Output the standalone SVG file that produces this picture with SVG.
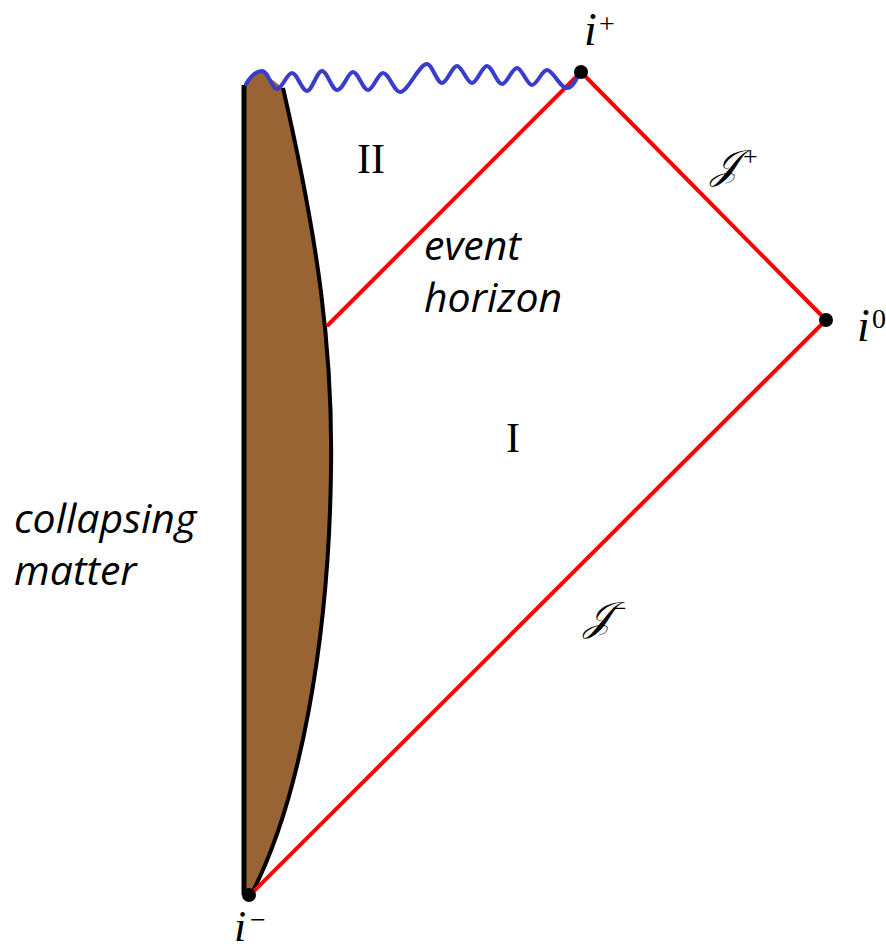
<svg xmlns="http://www.w3.org/2000/svg" width="886" height="952" viewBox="0 0 886 952">
<style>
.red{stroke:#ff0000;stroke-width:4;fill:none;stroke-linecap:round}
.dot{fill:#000}
.math{font-family:"Liberation Serif","DejaVu Serif",serif;font-style:italic;fill:#000}
.sup{font-family:"Liberation Serif","DejaVu Serif",serif;fill:#000}
.roman{font-family:"Liberation Serif",serif;fill:#000;font-size:42px}
.lbl{font-family:"Open Sans","Liberation Sans",sans-serif;font-style:italic;fill:#000;font-size:41px}
</style>
<rect width="886" height="952" fill="#fff"/>
<g id="matter">
<path d="M244,86 C250,72 262,68 270,78 L283,88 C318,240 333,350 331,470 C329,640 300,800 252,893 L244,893 Z" fill="#986433"/>
<path d="M283,88 C318,240 333,350 331,470 C329,640 300,800 252,893" fill="none" stroke="#000" stroke-width="4"/>
<line x1="244" y1="85" x2="244" y2="895" stroke="#000" stroke-width="5"/>
</g>
<g id="connectors">
<line class="red" x1="250" y1="895" x2="826" y2="320"/>
<line class="red" x1="826" y1="320" x2="581" y2="72"/>
<line class="red" x1="581" y1="72" x2="328" y2="325"/>
<path id="singularity" fill="none" stroke="#3a3ccc" stroke-width="4" stroke-linecap="round" d="M246,84 C252,74 257,71 262,71 C268,71 272,89 277,89 C282,89 287,73 292,73 C297,73 302,91 307,91 C312,91 317,71 322,71 C327,71 332,90 337,90 C343,90 348,72 353,72 C358,72 363,90 368,90 C373,90 378,73 383,73 C389,73 394,92 400,92 C408,92 419,64 427,64 C432,64 437,83 442,83 C447,83 452,66 457,66 C462,66 467,83 472,83 C477,83 482,66 487,66 C492,66 497,84 502,84 C507,84 512,68 517,68 C522,68 527,85 532,85 C537,85 542,70 547,70 C553,70 560,88 567,88 C572,88 576,80 579,74"/>
</g>
<g id="i-plus"><circle class="dot" cx="581" cy="72" r="7"/><text class="math" x="584" y="45" font-size="46">i</text><text class="sup" x="599" y="33" font-size="28">+</text></g>
<g id="i-zero"><circle class="dot" cx="826" cy="320" r="7"/><text class="math" x="857" y="341" font-size="46">i</text><text class="sup" x="872" y="328" font-size="28">0</text></g>
<g id="i-minus"><circle class="dot" cx="249" cy="895" r="7"/><text class="math" x="234" y="941" font-size="44">i</text><text class="sup" x="250" y="929" font-size="28">−</text></g>
<g id="scri-plus"><text class="math" x="711" y="178" font-size="40">𝒥</text><text class="sup" x="743" y="165" font-size="26">+</text></g>
<g id="scri-minus"><text class="math" x="584" y="630" font-size="40">𝒥</text><text class="sup" x="612" y="617" font-size="26">−</text></g>
<g id="region-II"><text class="roman" x="357" y="173">II</text></g>
<g id="region-I"><text class="roman" x="506" y="452">I</text></g>
<g id="event-horizon-label"><text class="lbl" x="424" y="260">event</text><text class="lbl" x="424" y="312">horizon</text></g>
<g id="matter-label"><text class="lbl" x="14" y="533">collapsing</text><text class="lbl" x="14" y="585">matter</text></g>
</svg>
